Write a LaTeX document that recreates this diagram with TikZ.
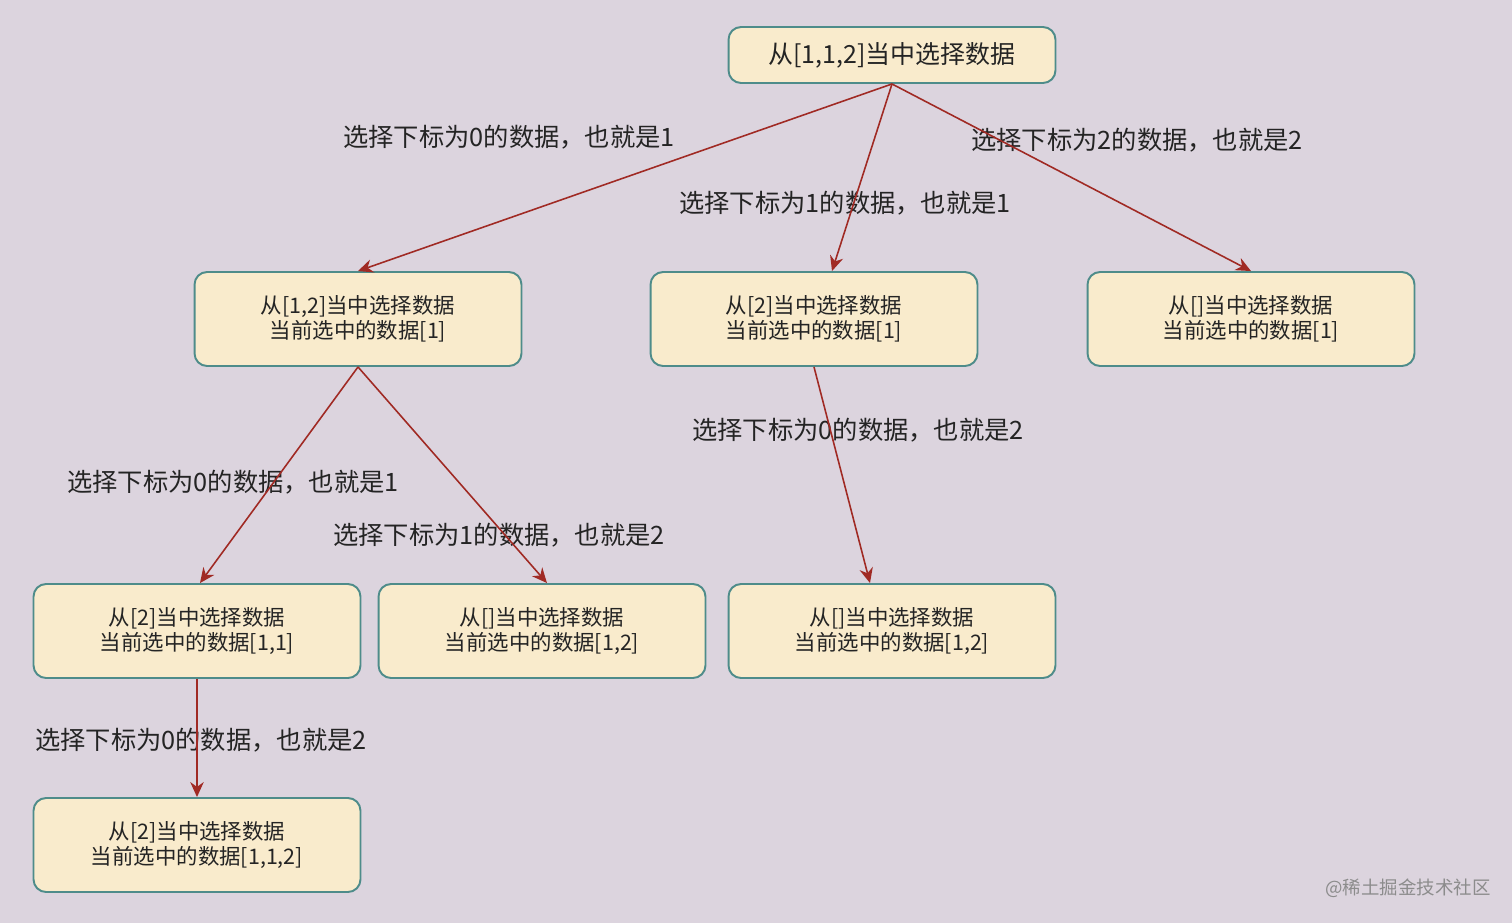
\documentclass[tikz,border=0pt]{standalone}
\usepackage{fontspec}
\setmainfont{Noto Sans CJK SC}
\usepackage{tikz}
\usetikzlibrary{positioning,calc,arrows.meta}
\usepackage{xcolor}
\definecolor{bgcol}{RGB}{220,212,222}
\definecolor{boxfill}{RGB}{249,235,204}
\definecolor{boxline}{RGB}{78,140,138}
\definecolor{arrcol}{RGB}{160,42,36}
\definecolor{txtcol}{RGB}{36,36,36}

\begin{document}
\begin{tikzpicture}[
    x=0.02cm, y=-0.02cm,
    box/.style={draw=boxline, fill=boxfill, line width=1.1pt, rounded corners=0.25cm, minimum width=6.54cm, minimum height=1.88cm, align=center, font=\fontsize{12.2}{14.5}\selectfont, text=txtcol, inner sep=0pt},
    lbl/.style={font=\fontsize{14.4}{17}\selectfont, text=txtcol, inner sep=0pt},
    arrow/.style={-{Stealth[length=3mm,width=2.7mm]}, draw=arrcol, fill=arrcol, line width=0.9pt}
]
\fill[bgcol] (0,0) rectangle (1512,923);
\useasboundingbox (0,0) rectangle (1512,923);

\node[box, minimum height=1.12cm, font=\fontsize{14.2}{17}\selectfont] (root) at (892,55) {从[1,1,2]当中选择数据};
\node[box] (A) at (358,319) {从[1,2]当中选择数据\\当前选中的数据[1]};
\node[box] (B) at (814,319) {从[2]当中选择数据\\当前选中的数据[1]};
\node[box] (C) at (1251,319) {从[]当中选择数据\\当前选中的数据[1]};
\node[box] (D) at (197,631) {从[2]当中选择数据\\当前选中的数据[1,1]};
\node[box] (E) at (542,631) {从[]当中选择数据\\当前选中的数据[1,2]};
\node[box] (F) at (892,631) {从[]当中选择数据\\当前选中的数据[1,2]};
\node[box] (G) at (197,845) {从[2]当中选择数据\\当前选中的数据[1,1,2]};

% edge labels
\node[lbl] (l1) at (509,137) {选择下标为0的数据，也就是1};
\node[lbl] (l2) at (845,203) {选择下标为1的数据，也就是1};
\node[lbl] (l3) at (1137,140) {选择下标为2的数据，也就是2};
\node[lbl] (l4) at (858,430) {选择下标为0的数据，也就是2};
\node[lbl] (l5) at (233,482) {选择下标为0的数据，也就是1};
\node[lbl] (l6) at (499,535) {选择下标为1的数据，也就是2};
\node[lbl] (l7) at (201,740) {选择下标为0的数据，也就是2};

\coordinate (Bin) at ($(B.north)+(18,0)$);
\coordinate (Din) at ($(D.north)+(3,0)$);
\coordinate (Ein) at ($(E.north)+(5,0)$);
\coordinate (Fin) at ($(F.north)+(-22,0)$);

\draw[arrow] (root.south) -- (A.north);
\draw[arrow] (root.south) -- (Bin);
\draw[arrow] (root.south) -- (C.north);
\draw[arrow] (A.south) -- (Din);
\draw[arrow] (A.south) -- (Ein);
\draw[arrow] (B.south) -- (Fin);
\draw[arrow] (D.south) -- (G.north);

\node[font=\fontsize{10.5}{12}\selectfont, text=black!45] (wm) at (1408,888) {@稀土掘金技术社区};
\end{tikzpicture}
\end{document}
